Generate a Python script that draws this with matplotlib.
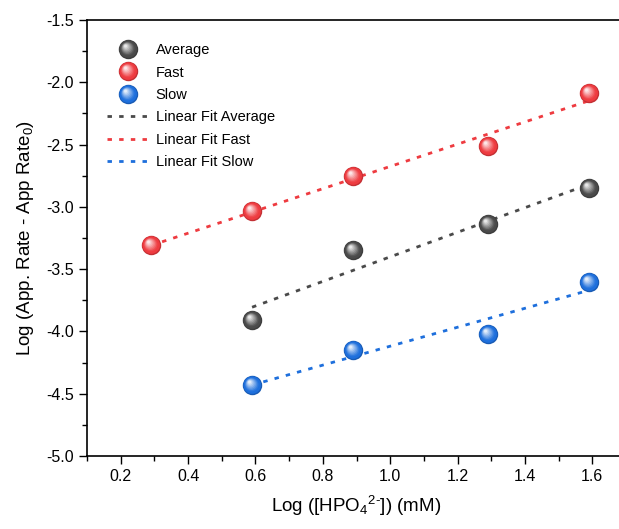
import numpy as np
import matplotlib
matplotlib.use("Agg")
import matplotlib.pyplot as plt
from matplotlib.path import Path
from matplotlib.colors import to_rgb
from matplotlib.legend_handler import HandlerTuple

plt.rcParams["font.family"] = ["Liberation Sans", "DejaVu Sans"]
plt.rcParams["mathtext.fontset"] = "custom"
plt.rcParams["mathtext.rm"] = "Liberation Sans"
plt.rcParams["mathtext.it"] = "Liberation Sans:italic"

# log concentrations
x_fast = [0.29, 0.59, 0.89, 1.29, 1.59]
x_avg = [0.59, 0.89, 1.29, 1.59]
x_slow = [0.59, 0.89, 1.29, 1.59]

# log (app. rate - app rate0)
y_fast = [-3.31, -3.03, -2.75, -2.51, -2.09]
y_avg = [-3.91, -3.35, -3.14, -2.85]
y_slow = [-4.43, -4.15, -4.02, -3.60]

names = ["Average", "Fast", "Slow"]
colors = ["#4a4a4a", "#ee3b40", "#1e6fdc"]
xs = [x_avg, x_fast, x_slow]
ys = [y_avg, y_fast, y_slow]


def blob(cx, cy, r):
    # circle marker, padded with bare moves so every layer shares the same scale
    circ = Path.circle((cx, cy), r)
    pad = Path([(-1, -1), (1, 1)], [Path.MOVETO, Path.MOVETO])
    return Path.make_compound_path(pad, circ)


def shade(c, t):
    c = np.array(to_rgb(c))
    if t < 0:
        return tuple(c * (1 + t))
    return tuple(c + (1 - c) * t)


layers = [(0.0, 0.0, 1.0, -0.18), (-0.03, 0.04, 0.9, 0.0)]
for i in range(7):
    f = i / 6
    layers.append((-0.08 - 0.22 * f, 0.1 + 0.25 * f, 0.7 - 0.55 * f, 0.08 + 0.8 * f))

fig = plt.figure(figsize=(6.19, 5.29), dpi=100)
ax = fig.add_axes([87 / 619, 1 - 456 / 529, 539 / 619, 436 / 529])

ms = 14
point_handles = []
for name, c, x, y in zip(names, colors, xs, ys):
    arts = []
    for cx, cy, r, t in layers:
        ln, = ax.plot(x, y, linestyle="none", marker=blob(cx, cy, r), markersize=ms,
                      markerfacecolor=shade(c, t), markeredgewidth=0, zorder=5)
        arts.append(ln)
    point_handles.append(tuple(arts))

fit_handles = []
for name, c, x, y in zip(names, colors, xs, ys):
    k, b = np.polyfit(x, y, 1)
    xx = np.array([min(x), max(x)])
    ln, = ax.plot(xx, k * xx + b, color=c, lw=2.0, linestyle=(0, (1.6, 2.6)), zorder=3)
    fit_handles.append(ln)

ax.set_xlim(0.1, 1.7)
ax.set_ylim(-5.0, -1.5)
ax.set_xticks(np.arange(0.2, 1.61, 0.2))
ax.set_xticks(np.arange(0.1, 1.71, 0.1), minor=True)
ax.set_yticks(np.arange(-5.0, -1.49, 0.5))
ax.set_yticks(np.arange(-5.0, -1.49, 0.25), minor=True)
ax.xaxis.set_major_formatter(matplotlib.ticker.FormatStrFormatter("%.1f"))
ax.yaxis.set_major_formatter(matplotlib.ticker.FormatStrFormatter("%.1f"))
ax.tick_params(which="both", direction="out", labelsize=11.5, width=1.0, colors="black")
ax.tick_params(which="major", length=6)
ax.tick_params(which="minor", length=3.5)
for s in ax.spines.values():
    s.set_linewidth(1.2)

ax.set_xlabel(r"Log ([HPO$_4$$^{2\text{-}}$]) (mM)", fontsize=13.5, labelpad=7)
ax.set_ylabel("Log (App. Rate - App Rate$_0$)", fontsize=13.5, labelpad=7)

ax.legend(point_handles + fit_handles,
          names + ["Linear Fit " + n for n in names],
          handler_map={tuple: HandlerTuple(ndivide=1)},
          loc="upper left", bbox_to_anchor=(0.037, 0.947), frameon=False,
          fontsize=10.5, handlelength=2.9, handletextpad=0.45, labelspacing=0.58,
          borderpad=0, borderaxespad=0, numpoints=1)

fig.savefig("out.png", dpi=100)
